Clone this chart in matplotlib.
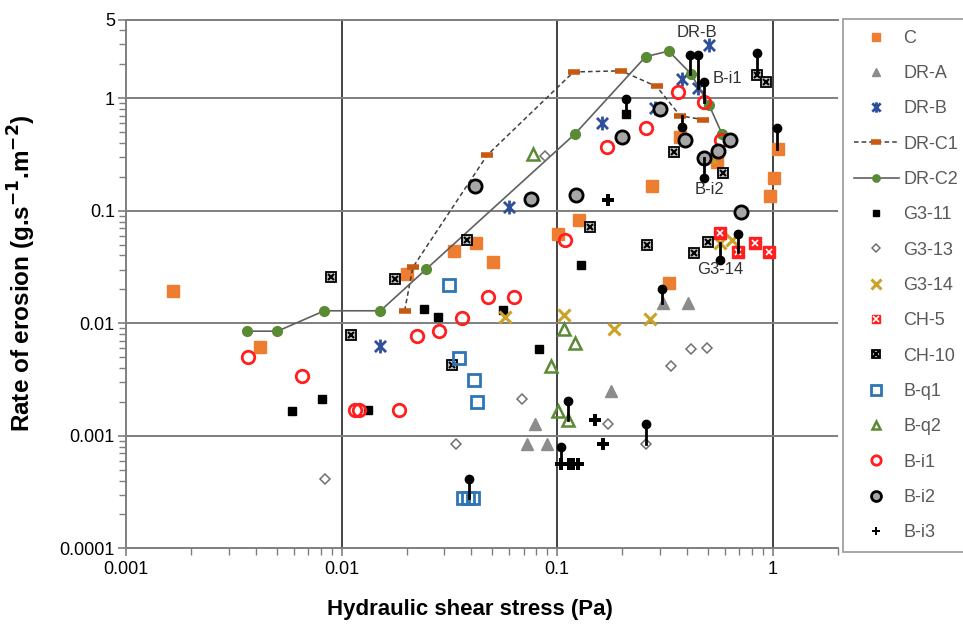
import numpy as np
import matplotlib.pyplot as plt
from matplotlib.path import Path
from matplotlib.legend_handler import HandlerTuple
import matplotlib.ticker as mticker

plt.rcParams['font.family'] = ['Liberation Sans', 'DejaVu Sans']

## DATA ##
c_x = [0.00165, 0.00419, 0.020, 0.0333, 0.0418, 0.0503, 0.1003, 0.1256, 0.275, 0.330, 0.372, 0.550, 0.967, 1.014, 1.059]
c_y = [0.0193, 0.0061, 0.0273, 0.044, 0.0519, 0.035, 0.0617, 0.0826, 0.166, 0.0229, 0.452, 0.273, 0.136, 0.194, 0.354]

dra_x = [0.0723, 0.0787, 0.0895, 0.178, 0.309, 0.402]
dra_y = [0.000845, 0.00126, 0.000845, 0.00249, 0.0152, 0.0152]

drb_x = [0.0150, 0.0598, 0.161, 0.283, 0.378, 0.448, 0.507]
drb_y = [0.00625, 0.1086, 0.599, 0.825, 1.486, 1.243, 2.94]

drc1_x = [0.0196, 0.0214, 0.0473, 0.119, 0.198, 0.289, 0.372, 0.476]
drc1_y = [0.0129, 0.0314, 0.311, 1.71, 1.75, 1.27, 0.696, 0.645]

drc2_x = [0.00363, 0.00504, 0.00832, 0.01514, 0.0247, 0.1208, 0.257, 0.329, 0.417, 0.506, 0.581]
drc2_y = [0.0085, 0.0085, 0.0129, 0.0129, 0.0303, 0.481, 2.34, 2.62, 1.645, 0.867, 0.481]

g311_x = [0.00591, 0.00812, 0.0132, 0.024, 0.028, 0.0561, 0.0825, 0.129, 0.209]
g311_y = [0.00165, 0.00211, 0.00168, 0.0133, 0.0114, 0.0132, 0.00589, 0.0331, 0.721]

g313_x = [0.00838, 0.034, 0.069, 0.0877, 0.1726, 0.257, 0.338, 0.415, 0.493]
g313_y = [0.000416, 0.000845, 0.00211, 0.307, 0.00126, 0.000845, 0.00418, 0.00585, 0.00597]

g314_x = [0.0574, 0.107, 0.1824, 0.270, 0.513, 0.569, 0.643]
g314_y = [0.01127, 0.0118, 0.0088, 0.01094, 0.30, 0.0519, 0.0548]

ch5_x = [0.569, 0.689, 0.824, 0.964]
ch5_y = [0.063, 0.0427, 0.0513, 0.0432]

ch10_x = [0.0089, 0.01107, 0.01766, 0.0325, 0.0381, 0.142, 0.260, 0.347, 0.432, 0.502, 0.585, 0.847, 0.933]
ch10_y = [0.0259, 0.0079, 0.0248, 0.00426, 0.0548, 0.0721, 0.0495, 0.331, 0.0423, 0.0524, 0.218, 1.61, 1.406]

bq1_x = [0.0316, 0.0352, 0.0413, 0.0424, 0.0366, 0.0387, 0.0407]
bq1_y = [0.022, 0.00486, 0.00312, 0.00199, 0.00028, 0.00028, 0.00028]

bq2_x = [0.0773, 0.0935, 0.1003, 0.1077, 0.112, 0.121]
bq2_y = [0.319, 0.00421, 0.00166, 0.0088, 0.00139, 0.0067]

bi1_x = [0.00367, 0.00653, 0.01148, 0.0121, 0.01855, 0.0223, 0.0283, 0.036, 0.0479, 0.0627, 0.109, 0.170, 0.259, 0.364, 0.477, 0.573]
bi1_y = [0.00502, 0.0034, 0.00168, 0.00168, 0.00168, 0.00768, 0.0085, 0.01117, 0.0170, 0.0170, 0.0548, 0.371, 0.548, 1.13, 0.933, 0.426]

bi2_x = [0.0416, 0.0752, 0.1216, 0.199, 0.298, 0.390, 0.480, 0.558, 0.635, 0.709]
bi2_y = [0.167, 0.127, 0.138, 0.455, 0.803, 0.426, 0.294, 0.340, 0.426, 0.098]

bi3_x = [0.104, 0.1128, 0.118, 0.1253, 0.149, 0.163, 0.172]
bi3_y = [0.000557, 0.000557, 0.000557, 0.000557, 0.00139, 0.000845, 0.1245]

# black "pins": dot value and the point it is tied to
pin_x = [0.414, 0.448, 0.480, 0.847, 1.045, 0.209, 0.377, 0.480, 0.689, 0.569, 0.306, 0.112, 0.257, 0.104, 0.0388]
pin_top = [2.43, 2.43, 1.40, 2.51, 0.548, 0.986, 0.559, 0.197, 0.0624, 0.0364, 0.0200, 0.00204, 0.00127, 0.00079, 0.000416]
pin_base = [1.645, 1.243, 0.933, 1.61, 0.354, 0.721, 0.696, 0.294, 0.0427, 0.0519, 0.0152, 0.00139, 0.000845, 0.000557, 0.00028]

labels = ["DR-B", "B-i1", "B-i2", "G3-14"]
label_x = [0.357, 0.524, 0.432, 0.447]
label_y = [3.84, 1.485, 0.155, 0.0301]

leg_labels = ['C', 'DR-A', 'DR-B', 'DR-C1', 'DR-C2', 'G3-11', 'G3-13', 'G3-14',
              'CH-5', 'CH-10', 'B-q1', 'B-q2', 'B-i1', 'B-i2', 'B-i3']

## COLOURS ##
orange = '#ED7D31'
dash_orange = '#C65A11'
grey = '#8C8C8C'
blue = '#2F4F9A'
green = '#5A8A34'
gold = '#C9A227'
red = '#FF1F1F'
lblue = '#2E75B6'

# Excel-like star: an X with a vertical bar through it
star = Path([(-1, -1), (1, 1), (-1, 1), (1, -1), (0, -1.25), (0, 1.25)],
            [Path.MOVETO, Path.LINETO, Path.MOVETO, Path.LINETO, Path.MOVETO, Path.LINETO])

fig = plt.figure(figsize=(9.63, 6.34), dpi=100)
ax = fig.add_axes([0.1308, 0.1352, 0.7392, 0.834])
ax.set_xscale('log')
ax.set_yscale('log')

handles = []
h = ax.plot(c_x, c_y, 's', color=orange, ms=8, mec=orange, zorder=3)[0]
handles.append(h)
h = ax.plot(dra_x, dra_y, '^', color=grey, ms=8, mec=grey, zorder=3)[0]
handles.append(h)
h = ax.plot(drb_x, drb_y, ls='none', marker=star, color=blue, ms=10, mew=2, zorder=3)[0]
handles.append(h)
h = ax.plot(drc1_x, drc1_y, ls=(0, (3, 2)), color='#404040', lw=1.1,
            marker='_', ms=9, mew=4, mec=dash_orange, zorder=3)[0]
handles.append(h)
h = ax.plot(drc2_x, drc2_y, '-', color='#606060', lw=1.2,
            marker='o', ms=7, mfc=green, mec=green, zorder=3)[0]
handles.append(h)
h = ax.plot(g311_x, g311_y, 's', color='black', ms=5.5, zorder=3)[0]
handles.append(h)
h = ax.plot(g313_x, g313_y, 'D', mfc='white', mec='#707070', ms=5.5, mew=1.1, ls='none', zorder=3)[0]
handles.append(h)
h = ax.plot(g314_x, g314_y, 'x', color=gold, ms=9, mew=2.2, zorder=3)[0]
handles.append(h)
h1 = ax.plot(ch5_x, ch5_y, 's', color=red, ms=8, zorder=3)[0]
h2 = ax.plot(ch5_x, ch5_y, 'x', color='white', ms=5, mew=1.2, zorder=3)[0]
handles.append((h1, h2))
h1 = ax.plot(ch10_x, ch10_y, 's', mfc='#C0C0C0', mec='black', ms=7, mew=1.3, zorder=3)[0]
h2 = ax.plot(ch10_x, ch10_y, 'x', color='black', ms=5, mew=1.5, zorder=3)[0]
handles.append((h1, h2))
h = ax.plot(bq1_x, bq1_y, 's', mfc='none', mec=lblue, ms=9, mew=2, zorder=3)[0]
handles.append(h)
h = ax.plot(bq2_x, bq2_y, '^', mfc='none', mec=green, ms=8, mew=1.8, zorder=3)[0]
handles.append(h)
h = ax.plot(bi1_x, bi1_y, 'o', mfc='none', mec=red, ms=9, mew=2, zorder=3)[0]
handles.append(h)
h = ax.plot(bi2_x, bi2_y, 'o', mfc='#A6A6A6', mec='black', ms=9.5, mew=2, zorder=3)[0]
handles.append(h)
h = ax.plot(bi3_x, bi3_y, 'P', color='black', ms=8, mew=0, zorder=3)[0]
handles.append(h)

# pins
for x, yt, yb in zip(pin_x, pin_top, pin_base):
    ax.plot([x, x], [yt, yb], color='black', lw=2, zorder=4)
ax.plot(pin_x, pin_top, 'o', color='black', ms=6, zorder=4)

for t, x, y in zip(labels, label_x, label_y):
    ax.text(x, y, t, fontsize=12, color='#303030', ha='left', va='center', zorder=5)

ax.set_xlim(0.001, 2)
ax.set_ylim(0.0001, 5)

ax.xaxis.set_major_locator(mticker.FixedLocator([0.001, 0.01, 0.1, 1]))
ax.xaxis.set_major_formatter(mticker.FixedFormatter(['0.001', '0.01', '0.1', '1']))
ax.xaxis.set_minor_locator(mticker.LogLocator(base=10, subs=np.arange(2, 10), numticks=20))
ax.xaxis.set_minor_formatter(mticker.NullFormatter())
ax.yaxis.set_major_locator(mticker.FixedLocator([0.0001, 0.001, 0.01, 0.1, 1, 5]))
ax.yaxis.set_major_formatter(mticker.FixedFormatter(['0.0001', '0.001', '0.01', '0.1', '1', '5']))
ax.yaxis.set_minor_locator(mticker.LogLocator(base=10, subs=np.arange(2, 10), numticks=20))
ax.yaxis.set_minor_formatter(mticker.NullFormatter())

for v in [0.01, 0.1, 1]:
    ax.axvline(v, color='#111111', lw=1.1, zorder=1)
for v in [0.001, 0.01, 0.1, 1]:
    ax.axhline(v, color='#7F7F7F', lw=1.4, zorder=1)

for s in ['left', 'bottom', 'top']:
    ax.spines[s].set_color('#7F7F7F')
    ax.spines[s].set_linewidth(1.4)
ax.spines['right'].set_visible(False)
ax.tick_params(which='major', direction='out', length=6, width=1.2, color='#7F7F7F',
               labelsize=13, labelcolor='#000000')
ax.tick_params(axis='y', which='major', pad=2)
ax.tick_params(which='minor', direction='out', length=5, width=1, color='#7F7F7F')

ax.set_xlabel('Hydraulic shear stress (Pa)', fontsize=16, fontweight='bold')
ax.set_ylabel(r'Rate of erosion (g.s$^{\mathbf{-1}}$.m$^{\mathbf{-2}}$)', fontsize=17.5,
              fontweight='bold')
ax.xaxis.set_label_coords(0.483, -0.096)
ax.yaxis.set_label_coords(-0.124, 0.52)

leg = fig.legend(handles, leg_labels, loc='upper left', bbox_to_anchor=(843 / 963, 1 - 19 / 634),
                 borderaxespad=0, frameon=True, fancybox=False, edgecolor='#7F7F7F', fontsize=13,
                 labelcolor='#595959', markerscale=0.75, handlelength=2.5,
                 labelspacing=1.015, borderpad=0.6, handletextpad=0.25,
                 handler_map={tuple: HandlerTuple(ndivide=1, pad=0)})
leg.get_frame().set_linewidth(1.2)

plt.savefig('out.png', dpi=100)
